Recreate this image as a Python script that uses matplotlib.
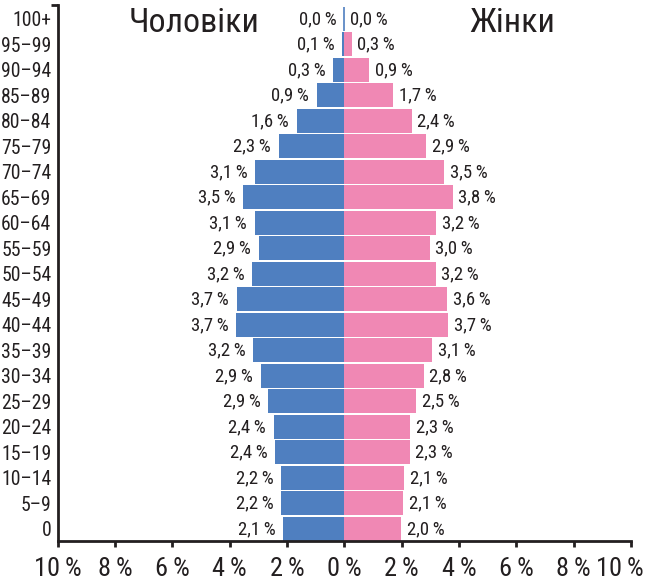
import matplotlib
matplotlib.use("Agg")
import matplotlib.pyplot as plt
from matplotlib import font_manager as fm
import numpy as np

# ---- pick a narrow humanist font if one is installed ----
def pick_font():
    cands = []
    for f in fm.fontManager.ttflist:
        stretch = str(f.stretch).lower()
        narrowish = ("narrow" in f.name.lower() or "condensed" in f.name.lower()
                     or stretch in ("condensed", "semi-condensed", "extra-condensed"))
        if not narrowish:
            continue
        w = f.weight if isinstance(f.weight, int) else {"normal": 400, "regular": 400, "book": 400}.get(str(f.weight).lower(), 700)
        if w not in (400,) or f.style != "normal":
            continue
        if "mono" in f.name.lower() or "serif" in f.name.lower() and "sans" not in f.name.lower():
            continue
        cands.append(f)
    order = ["Liberation Sans Narrow", "Roboto Condensed", "Open Sans", "Noto Sans", "DejaVu Sans"]
    for name in order:
        for f in cands:
            if f.name == name:
                return f.fname
    if cands:
        return cands[0].fname
    return None

fname = pick_font()
if fname:
    fm.fontManager.addfont(fname)
    fam = fm.FontProperties(fname=fname).get_name()
    plt.rcParams['font.family'] = [fam, 'DejaVu Sans']
else:
    plt.rcParams['font.family'] = ['Open Sans', 'DejaVu Sans']

def FP(size):
    if fname:
        return fm.FontProperties(fname=fname, size=size)
    return fm.FontProperties(family=['Open Sans', 'DejaVu Sans'], size=size * 0.85)

# Age groups from youngest (bottom) to oldest (top)
age_groups = ["0", "5–9", "10–14", "15–19", "20–24", "25–29", "30–34", "35–39",
              "40–44", "45–49", "50–54", "55–59", "60–64", "65–69", "70–74",
              "75–79", "80–84", "85–89", "90–94", "95–99", "100+"]

# Bar lengths as drawn (percent)
male_values = [2.13, 2.21, 2.21, 2.41, 2.47, 2.65, 2.91, 3.19, 3.78, 3.75, 3.22,
               2.98, 3.13, 3.54, 3.12, 2.29, 1.66, 0.97, 0.40, 0.07, 0.0]
female_values = [1.98, 2.05, 2.09, 2.27, 2.29, 2.51, 2.76, 3.07, 3.63, 3.59, 3.18,
                 2.97, 3.20, 3.77, 3.49, 2.86, 2.34, 1.71, 0.87, 0.26, 0.0]

# Printed value labels
male_labels = ["2,1", "2,2", "2,2", "2,4", "2,4", "2,9", "2,9", "3,2", "3,7", "3,7",
               "3,2", "2,9", "3,1", "3,5", "3,1", "2,3", "1,6", "0,9", "0,3", "0,1", "0,0"]
female_labels = ["2,0", "2,1", "2,1", "2,3", "2,3", "2,5", "2,8", "3,1", "3,7", "3,6",
                 "3,2", "3,0", "3,2", "3,8", "3,5", "2,9", "2,4", "1,7", "0,9", "0,3", "0,0"]

x_ticks = [-10, -8, -6, -4, -2, 0, 2, 4, 6, 8, 10]
x_tick_labels = ["10\u2009%", "8\u2009%", "6\u2009%", "4\u2009%", "2\u2009%", "0\u2009%",
                 "2\u2009%", "4\u2009%", "6\u2009%", "8\u2009%", "10\u2009%"]

title_male = "Чоловіки"
title_female = "Жінки"

blue = "#4F7FC0"
pink = "#F088B4"
text_color = "#231F20"

fig = plt.figure(figsize=(6.48, 5.81), dpi=100)
ax = fig.add_axes([0.089, 0.0694, 0.885, 0.9225])

y = np.arange(len(age_groups))
h = 0.94
ax.barh(y, -np.array(male_values), height=h, color=blue, linewidth=0)
ax.barh(y, female_values, height=h, color=pink, linewidth=0)

top = len(age_groups) - 1
ax.vlines(0, top - h / 2, top + h / 2, color=blue, lw=1.2)

for yi, mv, ml in zip(y, male_values, male_labels):
    ax.annotate(ml + "\u2009%", xy=(-mv, yi), xytext=(-5.5, 0), textcoords="offset points",
                ha="right", va="center", fontproperties=FP(13.5), color=text_color)
for yi, fv, fl in zip(y, female_values, female_labels):
    ax.annotate(fl + "\u2009%", xy=(fv, yi), xytext=(4, 0), textcoords="offset points",
                ha="left", va="center", fontproperties=FP(13.5), color=text_color)

ax.set_xlim(-10, 10)
ax.set_ylim(-0.46, top + 0.56)
ax.set_xticks(x_ticks)
# the last tick label is drawn separately, nudged left to stay inside the figure
ax.set_xticklabels(x_tick_labels[:-1] + [""], color=text_color)
for t in ax.get_xticklabels():
    t.set_fontproperties(FP(19))
ax.annotate(x_tick_labels[-1], xy=(x_ticks[-1], 0), xycoords=("data", "axes fraction"),
            xytext=(-8, -11.5), textcoords="offset points", ha="center", va="top",
            fontproperties=FP(19), color=text_color)

ax.set_yticks(y)
ax.set_yticklabels(age_groups, color=text_color)
for t in ax.get_yticklabels():
    t.set_fontproperties(FP(14.2))

ax.tick_params(axis="y", length=0, pad=4.5)
ax.tick_params(axis="x", length=4.5, width=2, pad=7, color=text_color)

for s in ["top", "right"]:
    ax.spines[s].set_visible(False)
for s in ["left", "bottom"]:
    ax.spines[s].set_linewidth(2)
    ax.spines[s].set_color(text_color)

ax.plot([-10.22, -10], [top + 0.56, top + 0.56], color=text_color, lw=2,
        clip_on=False, solid_capstyle="butt")

ax.text(-5.23, top - 0.15, title_male, ha="center", va="center",
        fontproperties=FP(24.5), color=text_color)
ax.text(5.86, top - 0.15, title_female, ha="center", va="center",
        fontproperties=FP(24.5), color=text_color)

fig.savefig("out.png", dpi=100)
